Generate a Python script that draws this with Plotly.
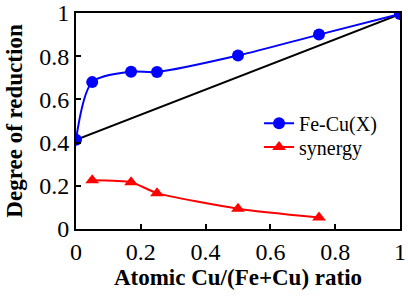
import plotly.graph_objects as go

ratio_fecu = [0, 0.05, 0.17, 0.25, 0.5, 0.75, 1.0]
deg_fecu = [0.413, 0.68, 0.728, 0.727, 0.803, 0.9, 0.995]
ratio_syn = [0.05, 0.17, 0.25, 0.5, 0.75]
deg_syn = [0.226, 0.217, 0.166, 0.094, 0.053]
ratio_lin = [0, 1]
deg_lin = [0.413, 0.995]

x_ticks = [0, 0.2, 0.4, 0.6, 0.8, 1]
x_ticklabels = ["0", "0.2", "0.4", "0.6", "0.8", "1"]
y_ticks = [0, 0.2, 0.4, 0.6, 0.8, 1]
y_ticklabels = ["0", "0.2", "0.4", "0.6", "0.8", "1"]

font = "Liberation Serif"

fig = go.Figure()
fig.add_trace(go.Scatter(x=ratio_lin, y=deg_lin, mode="lines",
                         line=dict(color="black", width=2), showlegend=False))
fig.add_trace(go.Scatter(x=ratio_fecu, y=deg_fecu, mode="lines+markers", name="Fe-Cu(X)",
                         line=dict(color="#0000ff", width=2, shape="spline", smoothing=0.8),
                         marker=dict(symbol="circle", size=12, color="#0000ff"),
                         legend="legend"))
fig.add_trace(go.Scatter(x=ratio_syn, y=deg_syn, mode="lines+markers", name="synergy",
                         line=dict(color="#ff0000", width=2, shape="spline", smoothing=0.6),
                         marker=dict(symbol="triangle-up", size=12, color="#ff0000"),
                         legend="legend2"))

leg_common = dict(xanchor="left", yanchor="middle", bgcolor="rgba(0,0,0,0)",
                  font=dict(size=20, family=font, color="black"), itemwidth=30)

fig.update_layout(
    width=408, height=296,
    margin=dict(l=76, r=8, t=13, b=67, autoexpand=False),
    paper_bgcolor="white", plot_bgcolor="white",
    font=dict(family=font, size=24, color="black"),
    showlegend=True,
    legend=dict(x=0.565, y=0.49, **leg_common),
    legend2=dict(x=0.565, y=0.38, **leg_common),
    xaxis=dict(range=[0, 1], tickvals=x_ticks, ticktext=x_ticklabels, automargin=False,
               showline=True, linecolor="black", linewidth=2, mirror=True,
               ticks="inside", ticklen=5, tickwidth=2, tickcolor="black",
               ticklabeloverflow="allow",
               showgrid=False, zeroline=False, tickfont=dict(size=24, family=font),
               title=dict(text="<b>Atomic Cu/(Fe+Cu) ratio</b>", font=dict(size=23, family=font), standoff=2)),
    yaxis=dict(range=[0, 1], tickvals=y_ticks, ticktext=y_ticklabels, automargin=False,
               showline=True, linecolor="black", linewidth=2, mirror=True,
               ticks="inside", ticklen=5, tickwidth=2, tickcolor="black",
               ticklabeloverflow="allow",
               showgrid=False, zeroline=False, tickfont=dict(size=24, family=font),
               title=dict(text="<b>Degree of reduction</b>", font=dict(size=23, family=font), standoff=10)),
)

fig.write_html("out.html", config={"displayModeBar": False},
               post_script="document.body.style.margin='0px';")
